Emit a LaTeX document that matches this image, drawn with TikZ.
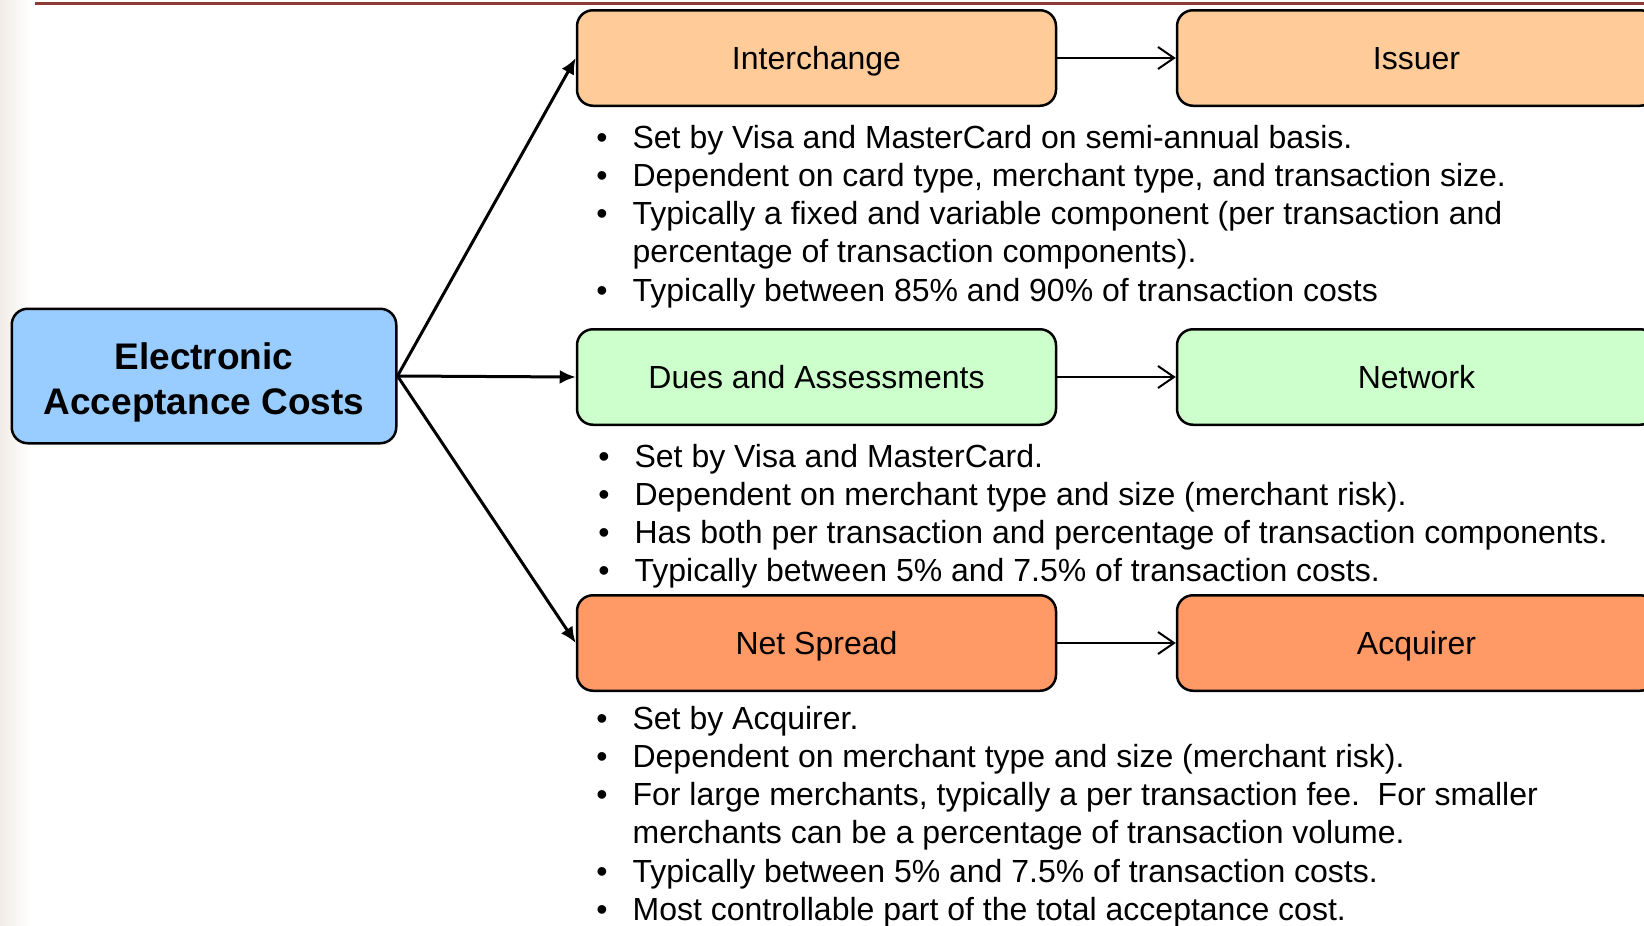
\documentclass[tikz,border=0pt]{standalone}
\usepackage{fontspec}
\setmainfont{Liberation Sans}
\usepackage{xcolor}
\usetikzlibrary{arrows.meta}

\definecolor{peach}{HTML}{FFCC99}
\definecolor{mint}{HTML}{CCFFCC}
\definecolor{salmon}{HTML}{FF9966}
\definecolor{sky}{HTML}{99CCFF}
\definecolor{toprule}{HTML}{8E3B38}
\definecolor{edgetint}{HTML}{F1ECE6}

\tikzset{
  costbox/.style={draw, line width=1.25pt, rounded corners=8pt, minimum width=239.5pt, minimum height=47.75pt,
                  text height=11.5pt, text depth=0pt, font=\fontsize{16}{19}\selectfont},
  bulletlist/.style={anchor=base west, inner sep=0pt, font=\fontsize{16}{19.15}\selectfont},
  split/.style={line width=1.5pt, -{Latex[length=8pt,width=7pt]}},
  payee/.style={line width=1pt, -{Straight Barb[length=8pt,width=11pt]}},
}

\begin{document}
\begin{tikzpicture}[x=0.5pt,y=-0.5pt]
  \useasboundingbox (0,0) rectangle (1644,926);
  \clip (0,0) rectangle (1644,926);
  % page edge and top rule
  \shade[left color=edgetint, right color=white] (0,0) rectangle (30,926);
  \draw[toprule, line width=1.5pt] (35,3) -- (1644,3);

  % boxes
  \node[costbox, fill=sky, minimum width=192.25pt, minimum height=67.25pt, align=center,
        text height=38pt, text depth=0pt,
        font=\fontsize{18.5}{22.5}\selectfont\bfseries] (eac) at (204,376) {Electronic\\Acceptance Costs};
  \node[costbox, fill=peach] (interchange) at (816.5,58) {Interchange};
  \node[costbox, fill=peach] (issuer) at (1416.5,58) {Issuer};
  \node[costbox, fill=mint] (dues) at (816.5,377) {Dues and Assessments};
  \node[costbox, fill=mint] (network) at (1416.5,377) {Network};
  \node[costbox, fill=salmon] (spread) at (816.5,643) {Net Spread};
  \node[costbox, fill=salmon] (acquirer) at (1416.5,643) {Acquirer};

  % arrows
  \draw[split] (eac.east) -- (interchange.west);
  \draw[split] (eac.east) -- (dues.west);
  \draw[split] (eac.east) -- (spread.west);
  \draw[payee] (interchange) -- (issuer);
  \draw[payee] (dues) -- (network);
  \draw[payee] (spread) -- (acquirer);

  % notes under each box
  \node[bulletlist] (interchangenotes) at (596,148) {\begin{tabular}[t]{@{}l@{\hspace{12.5pt}}l@{}}
    \textbullet & Set by Visa and MasterCard on semi-annual basis.\\
    \textbullet & Dependent on card type, merchant type, and transaction size.\\
    \textbullet & Typically a fixed and variable component (per transaction and\\
                & percentage of transaction components).\\
    \textbullet & Typically between 85\% and 90\% of transaction costs
  \end{tabular}};
  \node[bulletlist] (duesnotes) at (598,467) {\begin{tabular}[t]{@{}l@{\hspace{12.5pt}}l@{}}
    \textbullet & Set by Visa and MasterCard.\\
    \textbullet & Dependent on merchant type and size (merchant risk).\\
    \textbullet & Has both per transaction and percentage of transaction components.\\
    \textbullet & Typically between 5\% and 7.5\% of transaction costs.
  \end{tabular}};
  \node[bulletlist] (spreadnotes) at (596,729) {\begin{tabular}[t]{@{}l@{\hspace{12.5pt}}l@{}}
    \textbullet & Set by Acquirer.\\
    \textbullet & Dependent on merchant type and size (merchant risk).\\
    \textbullet & For large merchants, typically a per transaction fee.\ \ For smaller\\
                & merchants can be a percentage of transaction volume.\\
    \textbullet & Typically between 5\% and 7.5\% of transaction costs.\\
    \textbullet & Most controllable part of the total acceptance cost.
  \end{tabular}};
\end{tikzpicture}
\end{document}
